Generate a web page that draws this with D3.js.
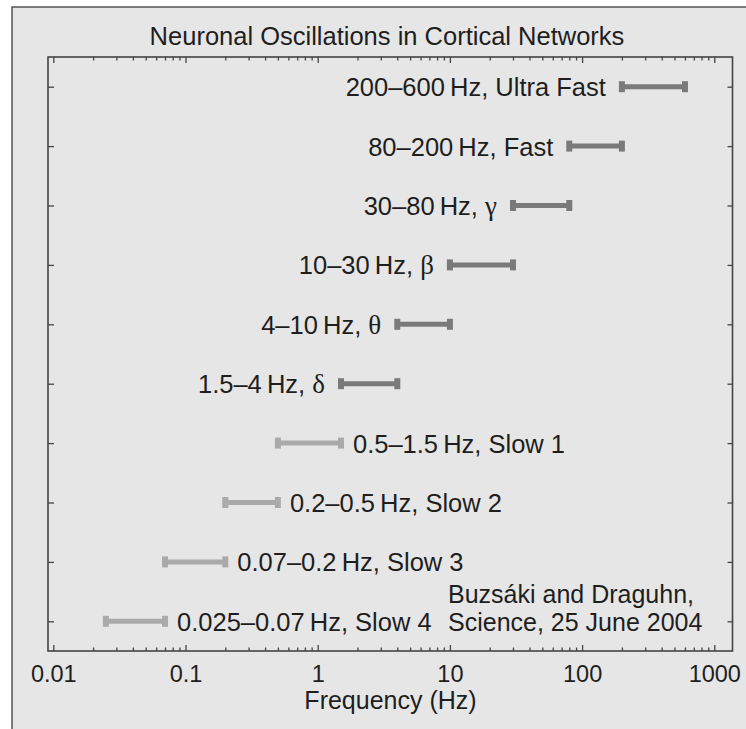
<!DOCTYPE html>
<html>
<head>
<meta charset="utf-8">
<script src="https://cdn.jsdelivr.net/npm/d3@7"></script>
<style>
  html, body { margin: 0; padding: 0; background: #ffffff; }
  svg { display: block; }
</style>
</head>
<body>
<svg id="chart" width="746" height="729"></svg>
<script>
// ---- data ----
const rangeLabels = ["200–600", "80–200", "30–80", "10–30", "4–10", "1.5–4", "0.5–1.5", "0.2–0.5", "0.07–0.2", "0.025–0.07"];
const lowHz  = [200, 80, 30, 10, 4, 1.5, 0.5, 0.2, 0.07, 0.025];
const highHz = [600, 200, 80, 30, 10, 4, 1.5, 0.5, 0.2, 0.07];
const bandNames = ["Ultra Fast", "Fast", "γ", "β", "θ", "δ", "Slow 1", "Slow 2", "Slow 3", "Slow 4"];
const isGreek = [false, false, true, true, true, true, false, false, false, false];
const isSlow  = [false, false, false, false, false, false, true, true, true, true];
const xMajorTicks = [0.01, 0.1, 1, 10, 100, 1000];
const xTickLabels = ["0.01", "0.1", "1", "10", "100", "1000"];
const titleText = "Neuronal Oscillations in Cortical Networks";
const xAxisTitle = "Frequency (Hz)";
const citation = ["Buzsáki and Draguhn,", "Science, 25 June 2004"];

// ---- layout ----
const svg = d3.select("#chart");
const W = 746, H = 729;
const mLeft = 48, mRight = 732.5, mTop = 57, mBottom = 651;
const sans = "'Liberation Sans', Arial, Helvetica, sans-serif";
const serif = "'Liberation Serif', 'Times New Roman', serif";
const ink = "#1e1e1e";
const axisColor = "#444";

// panel
svg.append("rect").attr("x", 12).attr("y", 7).attr("width", W).attr("height", H)
  .attr("fill", "#e6e6e6").attr("stroke", "#555").attr("stroke-width", 1.5);

// scales
const x = d3.scaleLog().domain([0.01, 1000]).range([53.3, 714.3]);
const idx = d3.range(rangeLabels.length);
const y = d3.scalePoint().domain(idx).range([mTop, mBottom]).padding(0.5);

// minor ticks
const minorTicks = [];
for (let e = -2; e < 3; e++) for (let m = 2; m <= 9; m++) minorTicks.push(m * Math.pow(10, e));

// axes
const g = svg.append("g");
const styleAxis = sel => {
  sel.select(".domain").remove();
  sel.selectAll("line").attr("stroke", axisColor).attr("stroke-width", 1.3);
};
g.append("g").attr("transform", `translate(0,${mBottom})`)
  .call(d3.axisBottom(x).tickValues(xMajorTicks).tickSize(-6).tickPadding(14)
    .tickFormat((d, i) => xTickLabels[i]))
  .call(styleAxis)
  .call(s => s.selectAll("text").attr("font-family", sans).attr("font-size", 23.5).attr("fill", ink));
g.append("g").attr("transform", `translate(0,${mBottom})`)
  .call(d3.axisBottom(x).tickValues(minorTicks).tickSize(-3.5).tickFormat(""))
  .call(styleAxis);
g.append("g").attr("transform", `translate(0,${mTop})`)
  .call(d3.axisTop(x).tickValues(xMajorTicks).tickSize(-6).tickFormat(""))
  .call(styleAxis);
g.append("g").attr("transform", `translate(0,${mTop})`)
  .call(d3.axisTop(x).tickValues(minorTicks).tickSize(-3.5).tickFormat(""))
  .call(styleAxis);
g.append("g").attr("transform", `translate(${mLeft},0)`)
  .call(d3.axisLeft(y).tickSize(-6).tickFormat(""))
  .call(styleAxis);
g.append("g").attr("transform", `translate(${mRight},0)`)
  .call(d3.axisRight(y).tickSize(-5).tickFormat(""))
  .call(styleAxis);

// axis box
svg.append("rect").attr("x", mLeft).attr("y", mTop)
  .attr("width", mRight - mLeft).attr("height", mBottom - mTop)
  .attr("fill", "none").attr("stroke", axisColor).attr("stroke-width", 1.6);

// bars
const bars = svg.append("g");
idx.forEach(i => {
  const col = isSlow[i] ? "#aaaaaa" : "#7a7a7a";
  const cy = y(i);
  const x0 = x(lowHz[i]), x1 = x(highHz[i]);
  bars.append("line").attr("x1", x0).attr("x2", x1).attr("y1", cy).attr("y2", cy)
    .attr("stroke", col).attr("stroke-width", 5);
  [x0, x1].forEach(xx => {
    bars.append("rect").attr("x", xx - 3).attr("y", cy - 5.5)
      .attr("width", 6).attr("height", 11).attr("fill", col);
  });
  const t = bars.append("text")
    .attr("y", cy + 9.5)
    .attr("font-family", sans).attr("font-size", 25.5).attr("fill", ink);
  if (isSlow[i]) {
    t.attr("x", x1 + 12).attr("text-anchor", "start");
  } else {
    t.attr("x", x0 - 16).attr("text-anchor", "end");
  }
  t.append("tspan").text(rangeLabels[i] + "\u2009Hz, ");
  const n = t.append("tspan").text(bandNames[i]);
  if (isGreek[i]) n.attr("font-family", serif).attr("font-size", 27);
});

// title
svg.append("text").attr("x", 387).attr("y", 45).attr("text-anchor", "middle")
  .attr("font-family", sans).attr("font-size", 25.5).attr("fill", ink).text(titleText);

// x-axis title
svg.append("text").attr("x", 390.5).attr("y", 709).attr("text-anchor", "middle")
  .attr("font-family", sans).attr("font-size", 25).attr("fill", ink).text(xAxisTitle);

// citation
citation.forEach((line, k) => {
  svg.append("text").attr("x", 448).attr("y", 602.5 + k * 28.5)
    .attr("font-family", sans).attr("font-size", 25).attr("fill", ink).text(line);
});
</script>
</body>
</html>
